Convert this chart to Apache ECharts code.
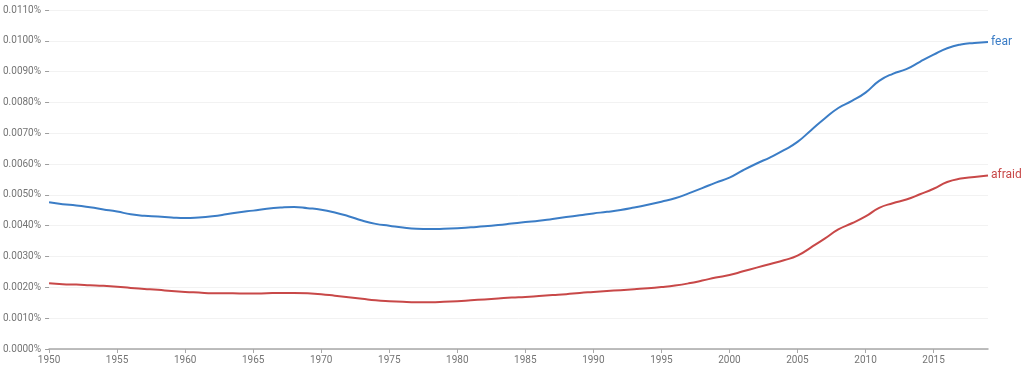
<!DOCTYPE html>
<html>
<head>
<meta charset="utf-8">
<script src="https://cdn.jsdelivr.net/npm/echarts@6/dist/echarts.min.js"></script>
<style>
html,body{margin:0;padding:0;background:#fff;}
#chart{width:1024px;height:366px;}
</style>
</head>
<body>
<div id="chart"></div>
<script>
const years = [];
for (let y = 1950; y <= 2019; y++) years.push(y);

const fear = [
0.00476,0.00470,0.00466,0.00460,0.00453,0.00446,0.00437,0.00432,0.00430,0.00427,
0.00425,0.00427,0.00431,0.00437,0.00444,0.00449,0.00455,0.00459,0.00461,0.00457,
0.00452,0.00443,0.00431,0.00417,0.00406,0.00400,0.00394,0.00390,0.00389,0.00390,
0.00392,0.00395,0.00398,0.00402,0.00407,0.00412,0.00416,0.00422,0.00428,0.00434,
0.00440,0.00445,0.00451,0.00459,0.00468,0.00478,0.00489,0.00505,0.00522,0.00540,
0.00556,0.00580,0.00602,0.00622,0.00645,0.00672,0.00710,0.00748,0.00782,0.00805,
0.00832,0.00870,0.00893,0.00908,0.00932,0.00955,0.00976,0.00988,0.00993,0.00996
];

const afraid = [
0.00213,0.00210,0.00209,0.00207,0.00205,0.00202,0.00198,0.00195,0.00192,0.00188,
0.00185,0.00183,0.00181,0.00181,0.00180,0.00180,0.00181,0.00182,0.00182,0.00181,
0.00178,0.00173,0.00168,0.00163,0.00158,0.00155,0.00153,0.00152,0.00152,0.00153,
0.00155,0.00158,0.00161,0.00164,0.00167,0.00169,0.00172,0.00175,0.00178,0.00182,
0.00185,0.00188,0.00191,0.00194,0.00197,0.00201,0.00206,0.00213,0.00222,0.00232,
0.00240,0.00252,0.00264,0.00276,0.00288,0.00303,0.00330,0.00358,0.00388,0.00408,
0.00430,0.00458,0.00473,0.00485,0.00502,0.00520,0.00542,0.00553,0.00558,0.00563
];

const xTicks = [1950,1955,1960,1965,1970,1975,1980,1985,1990,1995,2000,2005,2010,2015];
const seriesNames = ['fear','afraid'];
const seriesColors = ['#3b7dc6','#c84848'];

const chart = echarts.init(document.getElementById('chart'), null, {renderer:'canvas'});
const font = 'Roboto, "Noto Sans", sans-serif';

function mk(name, vals, color){
  return {
    name: name,
    type: 'line',
    data: years.map((y,i)=>[y, vals[i]]),
    smooth: true,
    showSymbol: false,
    symbol: 'none',
    lineStyle: {color: color, width: 2},
    itemStyle: {color: color},
    endLabel: {
      show: true,
      formatter: '{a}',
      color: color,
      fontSize: 12,
      fontFamily: font,
      distance: 3
    },
    animation: false
  };
}

chart.setOption({
  animation: false,
  grid: {left: 49, right: 36, top: 10, bottom: 17, containLabel: false},
  xAxis: {
    type: 'value',
    min: 1950,
    max: 2019,
    interval: 5,
    axisLine: {show: true, lineStyle: {color: '#a8a8a8', width: 1.5}},
    axisTick: {show: true, length: 4, lineStyle: {color: '#a8a8a8'}, customValues: xTicks},
    axisLabel: {color: '#757575', fontSize: 10, fontFamily: font, margin: 6, customValues: xTicks,
      formatter: v => String(v)},
    splitLine: {show: false}
  },
  yAxis: {
    type: 'value',
    min: 0,
    max: 0.011,
    interval: 0.001,
    axisLine: {show: false},
    axisTick: {show: true, length: 4, lineStyle: {color: '#9e9e9e'}},
    axisLabel: {color: '#757575', fontSize: 10, fontFamily: font, margin: 8,
      formatter: v => v.toFixed(4) + '%'},
    splitLine: {show: true, lineStyle: {color: '#f2f2f2', width: 1}}
  },
  series: [mk(seriesNames[0], fear, seriesColors[0]), mk(seriesNames[1], afraid, seriesColors[1])]
});
</script>
</body>
</html>
